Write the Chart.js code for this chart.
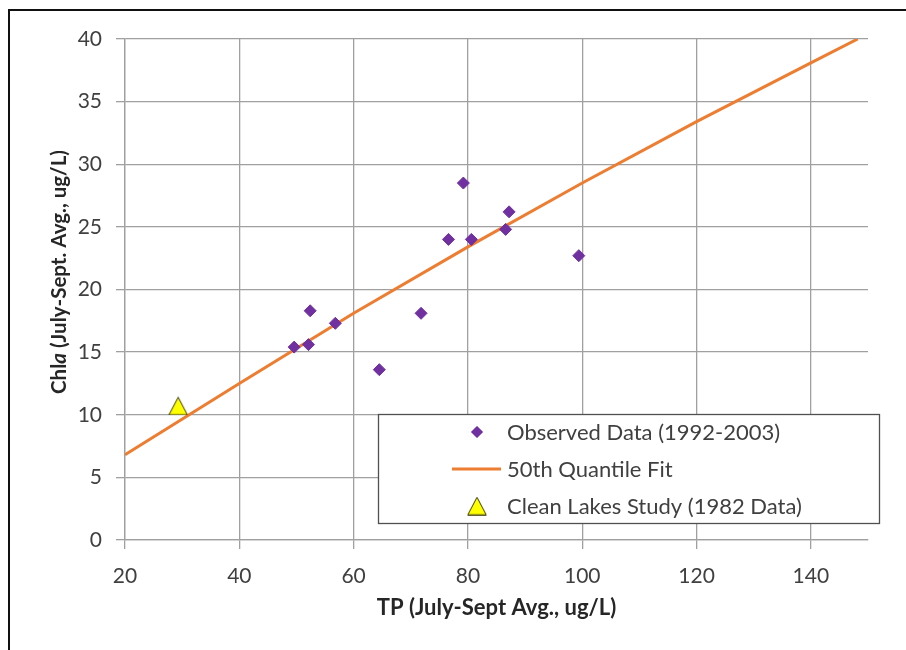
<!DOCTYPE html>
<html>
<head>
<meta charset="utf-8">
<title>Chl a vs TP</title>
<script src="https://cdn.jsdelivr.net/npm/chart.js@4.4.1/dist/chart.umd.min.js"></script>
<style>
  html, body { margin: 0; padding: 0; background: #ffffff; }
  #wrap { position: relative; width: 906px; height: 650px; overflow: hidden; }
  #frame { position: absolute; left: 8px; top: 9px; width: 1200px; height: 1200px;
           border-left: 2px solid #111; border-top: 2px solid #111; }
  #c { position: absolute; left: 0; top: 0; }
</style>
</head>
<body>
<div id="wrap">
  <div id="frame"></div>
  <canvas id="c" width="906" height="650"></canvas>
</div>
<script>
// Observed summer averages, 1992-2003
const observedTP   = [49.6, 52.1, 52.4, 56.8, 64.5, 71.8, 76.6, 79.2, 80.6, 86.6, 87.2, 99.4];
const observedChla = [15.4, 15.6, 18.3, 17.3, 13.6, 18.1, 24.0, 28.5, 24.0, 24.8, 26.2, 22.7];

// 50th quantile regression curve
const fitTP   = [20, 40, 60, 80, 100, 120, 140, 148.2];
const fitChla = [6.8, 12.5, 18.1, 23.4, 28.5, 33.4, 38.1, 40];

// Clean Lakes Study point (1982)
const cleanTP   = [29.3];
const cleanChla = [10.7];

// Axis ticks
const tpTicks   = [20, 40, 60, 80, 100, 120, 140];
const chlaTicks = [0, 5, 10, 15, 20, 25, 30, 35, 40];

const seriesLabels = ['Observed Data (1992-2003)', '50th Quantile Fit', 'Clean Lakes Study (1982 Data)'];

const PURPLE = '#7030A0';
const ORANGE = '#ED7D31';
const GRID = '#a0a0a0';
const TEXT = '#404040';
const FONT = 'Lato';

const toPoints = (xs, ys) => xs.map((x, i) => ({ x: x, y: ys[i] }));

// yellow triangle marker
function makeTriangle() {
  const c = document.createElement('canvas');
  c.width = 20; c.height = 19;
  const g = c.getContext('2d');
  g.beginPath();
  g.moveTo(10, 0.8);
  g.lineTo(19.2, 18.3);
  g.lineTo(0.8, 18.3);
  g.closePath();
  g.fillStyle = '#FFFF00';
  g.fill();
  g.lineWidth = 1;
  g.strokeStyle = '#3a3a10';
  g.stroke();
  return c;
}
const triangle = makeTriangle();

// Legend box drawn inside the plot area
const boxLegend = {
  id: 'boxLegend',
  afterDraw(chart) {
    const ctx = chart.ctx;
    const x0 = 378.5, y0 = 414.5, w = 501, h = 109;
    ctx.save();
    ctx.fillStyle = '#ffffff';
    ctx.fillRect(x0, y0, w, h);
    ctx.strokeStyle = '#505050';
    ctx.lineWidth = 1.3;
    ctx.strokeRect(x0, y0, w, h);
    const rows = [432, 469, 506];
    const mx = 477, tx = 507;
    ctx.font = '22px ' + FONT;
    ctx.fillStyle = TEXT;
    ctx.textBaseline = 'middle';
    ctx.textAlign = 'left';
    chart.data.datasets.forEach((ds, i) => {
      const y = rows[i];
      if (i === 0) {
        ctx.fillStyle = ds.backgroundColor;
        ctx.strokeStyle = ds.borderColor;
        ctx.lineWidth = 1;
        Chart.helpers.drawPoint(ctx, { pointStyle: 'rectRot', radius: 5.5, borderWidth: 1 }, mx, y);
        ctx.fill();
      } else if (i === 1) {
        ctx.strokeStyle = ds.borderColor;
        ctx.lineWidth = ds.borderWidth;
        ctx.beginPath();
        ctx.moveTo(452, y);
        ctx.lineTo(501, y);
        ctx.stroke();
      } else {
        ctx.drawImage(triangle, mx - triangle.width / 2, y - triangle.height / 2);
      }
      ctx.fillStyle = TEXT;
      ctx.fillText(ds.label, tx, y + 1);
    });
    ctx.restore();
  }
};

// Vertical axis title with italic "a" in Chla
const yTitle = {
  id: 'yTitle',
  afterDraw(chart) {
    const ctx = chart.ctx;
    const parts = [
      { t: 'Chl', f: 'bold 20.5px ' + FONT },
      { t: 'a', f: 'italic bold 20.5px ' + FONT },
      { t: ' (July-Sept. Avg., ug/L)', f: 'bold 20.5px ' + FONT }
    ];
    ctx.save();
    let total = 0;
    parts.forEach(p => { ctx.font = p.f; p.w = ctx.measureText(p.t).width; total += p.w; });
    ctx.translate(59, 272);
    ctx.rotate(-Math.PI / 2);
    ctx.fillStyle = '#262626';
    ctx.textBaseline = 'middle';
    ctx.textAlign = 'left';
    let x = -total / 2;
    parts.forEach(p => { ctx.font = p.f; ctx.fillText(p.t, x, 0); x += p.w; });
    ctx.restore();
  }
};

new Chart(document.getElementById('c'), {
  type: 'scatter',
  data: {
    datasets: [
      {
        label: seriesLabels[0],
        data: toPoints(observedTP, observedChla),
        pointStyle: 'rectRot',
        pointRadius: 6,
        pointHoverRadius: 6,
        backgroundColor: PURPLE,
        borderColor: PURPLE,
        borderWidth: 1,
        order: 1
      },
      {
        label: seriesLabels[1],
        data: toPoints(fitTP, fitChla),
        showLine: true,
        pointRadius: 0,
        pointHoverRadius: 0,
        borderColor: ORANGE,
        backgroundColor: ORANGE,
        borderWidth: 3,
        tension: 0,
        order: 2
      },
      {
        label: seriesLabels[2],
        data: toPoints(cleanTP, cleanChla),
        pointStyle: triangle,
        backgroundColor: '#FFFF00',
        borderColor: '#3a3a10',
        order: 0
      }
    ]
  },
  options: {
    responsive: false,
    animation: false,
    events: [],
    layout: { padding: { left: 0, top: 39, right: 38, bottom: 0 } },
    plugins: { legend: { display: false }, tooltip: { enabled: false } },
    scales: {
      x: {
        type: 'linear',
        min: 20,
        max: 150,
        afterFit(s) { s.height = 110; },
        afterBuildTicks(s) { s.ticks = tpTicks.map(v => ({ value: v })); },
        grid: { color: GRID, lineWidth: 1.3, tickLength: 9, drawTicks: true },
        border: { color: GRID, width: 1.3 },
        ticks: { color: TEXT, font: { family: FONT, size: 21 }, padding: 15, maxRotation: 0 },
        title: {
          display: true,
          text: 'TP (July-Sept Avg., ug/L)',
          color: '#262626',
          font: { family: FONT, size: 22, weight: 'bold' },
          padding: { top: 0, bottom: 29 }
        }
      },
      y: {
        type: 'linear',
        min: 0,
        max: 40,
        afterFit(s) { s.width = 125; },
        afterBuildTicks(s) { s.ticks = chlaTicks.map(v => ({ value: v })); },
        grid: { color: GRID, lineWidth: 1.3, tickLength: 9, drawTicks: true },
        border: { color: GRID, width: 1.3 },
        ticks: { color: TEXT, font: { family: FONT, size: 21 }, padding: 14 }
      }
    }
  },
  plugins: [boxLegend, yTitle]
});
</script>
</body>
</html>
